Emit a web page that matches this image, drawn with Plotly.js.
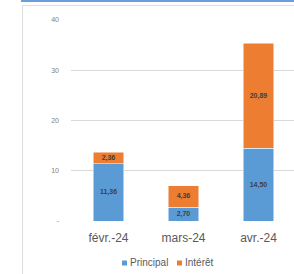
<!DOCTYPE html>
<html>
<head>
<meta charset="utf-8">
<script src="https://cdn.plot.ly/plotly-3.0.1.min.js"></script>
<style>
html,body{margin:0;padding:0;width:294px;height:274px;overflow:hidden;background:#fff;}
#band{position:absolute;left:21px;top:0;width:300px;height:2px;background:#6a9fdc;}
#frame{position:absolute;left:22px;top:5px;width:300px;height:300px;border:1px solid #dedede;box-sizing:border-box;}
#chart{position:absolute;left:0;top:0;}
</style>
</head>
<body>
<div id="band"></div>
<div id="frame"></div>
<div id="chart"></div>
<script>
const categories = ['févr.-24', 'mars-24', 'avr.-24'];
const seriesNames = ['Principal', 'Intérêt'];
const principal = [11.36, 2.70, 14.50];
const interet = [2.36, 4.36, 20.89];
const yTickVals = [0, 10, 20, 30, 40];
const yTickText = ['-', '10', '20', '30', '40'];

const fmt = v => v.toFixed(2).replace('.', ',');
const colors = ['#5b9bd5', '#ed7d31'];
const labelFont = {family: 'Liberation Sans, Arial, sans-serif', size: 7, color: '#404040', weight: 'bold'};

const traces = [principal, interet].map((vals, i) => ({
  type: 'bar', x: categories, y: vals, name: seriesNames[i], showlegend: false,
  marker: {color: colors[i], line: {color: '#ffffff', width: 0.5}},
  text: vals.map(fmt), textposition: 'inside', insidetextanchor: 'middle',
  constraintext: 'none', textfont: labelFont, hoverinfo: 'none'
}));

// Legend keys (layout decoration) in paper coordinates below the plot
const legendKeyX = [0.2267, 0.4711];
const legendKeyW = 0.0222;
const legendY0 = -0.1965, legendY1 = -0.2214;
const shapes = legendKeyX.map((x, i) => ({
  type: 'rect', xref: 'paper', yref: 'paper', x0: x, x1: x + legendKeyW,
  y0: legendY0, y1: legendY1, fillcolor: colors[i], line: {width: 0}
}));
const annotations = legendKeyX.map((x, i) => ({
  xref: 'paper', yref: 'paper', x: x + legendKeyW + 0.006, y: (legendY0 + legendY1) / 2,
  xanchor: 'left', yanchor: 'middle', showarrow: false, text: seriesNames[i],
  font: {family: 'Liberation Sans, Arial, sans-serif', size: 10, color: '#595959'}
}));

const layout = {
  width: 297, height: 274,
  margin: {l: 71, r: 1, t: 20, b: 53, pad: 0},
  paper_bgcolor: 'rgba(0,0,0,0)', plot_bgcolor: 'rgba(0,0,0,0)',
  barmode: 'stack', bargap: 0.59, showlegend: false,
  font: {family: 'Liberation Sans, Arial, sans-serif', color: '#595959'},
  xaxis: {type: 'category', showgrid: false, zeroline: false, showline: false, ticks: '',
          tickfont: {size: 12, color: '#595959'}, ticklabelstandoff: 8, fixedrange: true},
  yaxis: {range: [0, 40], tickvals: yTickVals, ticktext: yTickText, showgrid: true,
          gridcolor: '#d9d9d9', gridwidth: 1, zeroline: false, showline: false, ticks: '',
          tickfont: {size: 7, color: '#7f7f7f'}, ticklabelstandoff: 11, fixedrange: true},
  shapes: shapes,
  annotations: annotations
};

Plotly.newPlot('chart', traces, layout, {staticPlot: true, displayModeBar: false});
</script>
</body>
</html>
